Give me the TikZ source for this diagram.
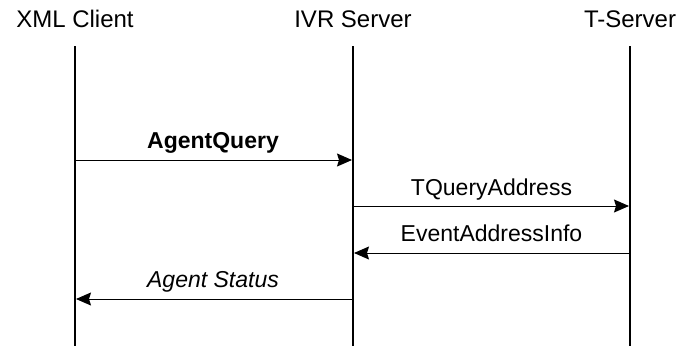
\documentclass[tikz,border=0pt]{standalone}
\usepackage{fontspec}
\setmainfont{Liberation Sans}
\usetikzlibrary{arrows.meta}
\begin{document}
\begin{tikzpicture}[x=1pt,y=-1pt,
  header/.style={anchor=base,inner sep=0pt,font=\fontsize{24}{28}\selectfont},
  msglabel/.style={anchor=base,inner sep=0pt,font=\fontsize{23}{27}\selectfont},
  lifeline/.style={line width=2pt},
  msg/.style={line width=1pt,-{Stealth[length=15pt,width=13pt,inset=2pt]}}]
\useasboundingbox (0,0) rectangle (682,346);
% headers
\node[header] (hx) at (75,27) {XML Client};
\node[header] (hi) at (353,27) {IVR Server};
\node[header] (ht) at (630,27) {T-Server};
% lifelines
\coordinate (xt) at (75,46);  \coordinate (xb) at (75,346);
\coordinate (it) at (353,46); \coordinate (ib) at (353,346);
\coordinate (tt) at (630,46); \coordinate (tb) at (630,346);
\draw[lifeline] (xt) -- (xb);
\draw[lifeline] (it) -- (ib);
\draw[lifeline] (tt) -- (tb);
% message endpoints
\coordinate (m1a) at (75,160);  \coordinate (m1b) at (352,160);
\coordinate (m2a) at (353,206); \coordinate (m2b) at (629,206);
\coordinate (m3a) at (630,253); \coordinate (m3b) at (354,253);
\coordinate (m4a) at (353,299); \coordinate (m4b) at (76,299);
\draw[msg] (m1a) -- (m1b);
\draw[msg] (m2a) -- (m2b);
\draw[msg] (m3a) -- (m3b);
\draw[msg] (m4a) -- (m4b);
% labels
\node[msglabel] (l1) at (213,148) {\textbf{AgentQuery}};
\node[msglabel] (l2) at (491.5,195) {TQueryAddress};
\node[msglabel] (l3) at (491.5,241) {EventAddressInfo};
\node[msglabel] (l4) at (213,287) {\textit{Agent Status}};
\end{tikzpicture}
\end{document}
